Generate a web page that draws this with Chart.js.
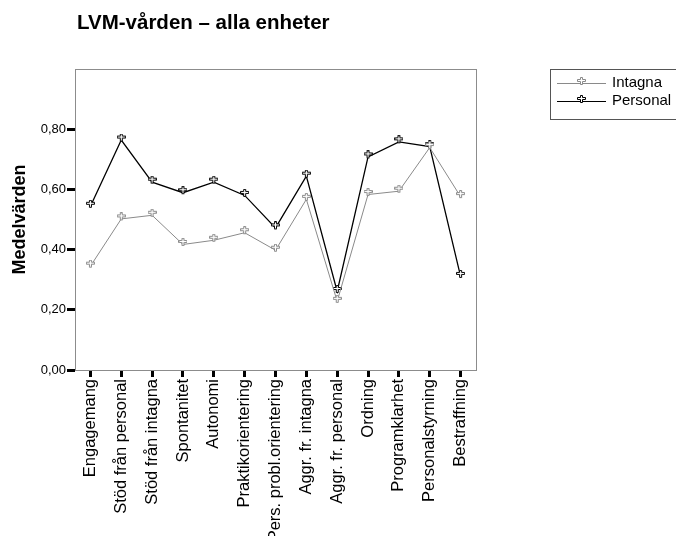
<!DOCTYPE html>
<html>

<head>
    <title>LVM-vården</title>
    <script src="https://cdn.jsdelivr.net/npm/chart.js"></script>
    <style>
        body { margin: 0; background: #fff; }
        #wrap { width: 676px; height: 536px; position: relative; }
    </style>
</head>

<body>
    <div id="wrap">
        <canvas id="chart" width="676" height="536"></canvas>
    </div>

    <script>
        // values
        const categories = ['Engagemang', 'Stöd från personal', 'Stöd från intagna', 'Spontanitet', 'Autonomi',
            'Praktikorientering', 'Pers. probl.orientering', 'Aggr. fr. intagna', 'Aggr. fr. personal',
            'Ordning', 'Programklarhet', 'Personalstyrning', 'Bestraffning'];
        const intagna = [0.345, 0.502, 0.514, 0.417, 0.431, 0.456, 0.398, 0.567, 0.228, 0.583, 0.594, 0.739, 0.576];
        const personal = [0.544, 0.764, 0.624, 0.589, 0.624, 0.580, 0.472, 0.644, 0.261, 0.708, 0.758, 0.742, 0.311];
        const yTicks = [0, 0.2, 0.4, 0.6, 0.8];

        const titleText = 'LVM-vården – alla enheter';
        const font = '"Liberation Sans", Arial, sans-serif';

        // little outlined cross used as marker
        function makeMarker(color) {
            const c = document.createElement('canvas');
            c.width = 9; c.height = 13;
            const g = c.getContext('2d');
            g.fillStyle = '#fff';
            g.strokeStyle = color;
            g.lineWidth = 1;
            g.beginPath();
            g.moveTo(3.5, 0.5); g.lineTo(5.5, 0.5); g.lineTo(5.5, 2.5); g.lineTo(8.5, 2.5);
            g.lineTo(8.5, 4.5); g.lineTo(5.5, 4.5); g.lineTo(5.5, 7.5); g.lineTo(3.5, 7.5);
            g.lineTo(3.5, 4.5); g.lineTo(0.5, 4.5); g.lineTo(0.5, 2.5); g.lineTo(3.5, 2.5);
            g.closePath();
            g.fill(); g.stroke();
            return c;
        }
        const grayMark = makeMarker('#8a8a8a');
        const blackMark = makeMarker('#000');

        const frameAndText = {
            id: 'frameAndText',
            afterDraw(chart) {
                const ctx = chart.ctx;
                const a = chart.chartArea;
                ctx.save();
                ctx.strokeStyle = '#8c8c8c';
                ctx.lineWidth = 1;
                ctx.strokeRect(a.left + 0.5, a.top + 0.5, a.right - a.left, a.bottom - a.top);

                // title
                ctx.fillStyle = '#000';
                ctx.font = 'bold 20.5px ' + font;
                ctx.textBaseline = 'alphabetic';
                ctx.textAlign = 'left';
                ctx.fillText(titleText, 77, 29);

                // legend
                ctx.strokeStyle = '#555';
                ctx.strokeRect(550.5, 69.5, 140, 50);
                const items = [['Intagna', '#8a8a8a', grayMark, 83], ['Personal', '#000', blackMark, 101]];
                ctx.font = '15px ' + font;
                ctx.textBaseline = 'middle';
                items.forEach(([label, col, mark, y]) => {
                    ctx.strokeStyle = col;
                    ctx.beginPath();
                    ctx.moveTo(557, y + 0.5);
                    ctx.lineTo(606, y + 0.5);
                    ctx.stroke();
                    ctx.drawImage(mark, 577, y - 6);
                    ctx.fillStyle = '#000';
                    ctx.fillText(label, 612, y);
                });
                ctx.restore();
            }
        };

        new Chart(document.getElementById('chart'), {
            type: 'line',
            data: {
                labels: categories,
                datasets: [{
                    label: 'Intagna',
                    data: intagna,
                    borderColor: '#8a8a8a',
                    borderWidth: 1,
                    pointStyle: grayMark,
                    tension: 0
                }, {
                    label: 'Personal',
                    data: personal,
                    borderColor: '#000',
                    borderWidth: 1.3,
                    pointStyle: blackMark,
                    tension: 0
                }]
            },
            options: {
                responsive: false,
                animation: false,
                layout: { padding: { top: 69, right: 200, left: 0, bottom: 0 } },
                plugins: {
                    legend: { display: false },
                    tooltip: { enabled: false }
                },
                scales: {
                    x: {
                        offset: true,
                        grid: {
                            offset: false,
                            drawOnChartArea: false,
                            tickLength: 7,
                            tickWidth: 3,
                            tickColor: '#000'
                        },
                        border: { color: '#8c8c8c', width: 1 },
                        ticks: {
                            minRotation: 90,
                            maxRotation: 90,
                            autoSkip: false,
                            padding: 2,
                            color: '#000',
                            font: { family: font, size: 16.5 }
                        },
                        afterFit(scale) { scale.height = 166; }
                    },
                    y: {
                        min: 0,
                        max: 1,
                        afterBuildTicks(scale) {
                            scale.ticks = yTicks.map(v => ({ value: v }));
                        },
                        grid: {
                            drawOnChartArea: false,
                            tickLength: 8,
                            tickWidth: 3,
                            tickColor: '#000'
                        },
                        border: { color: '#8c8c8c', width: 1 },
                        ticks: {
                            padding: 1,
                            color: '#000',
                            font: { family: font, size: 13 },
                            callback: v => v.toFixed(2).replace('.', ',')
                        },
                        title: {
                            display: true,
                            text: 'Medelvärden',
                            color: '#000',
                            font: { family: font, size: 18, weight: 'bold' },
                            padding: { top: 9, bottom: 0 }
                        },
                        afterFit(scale) { scale.width = 75; }
                    }
                }
            },
            plugins: [frameAndText]
        });
    </script>
</body>

</html>
